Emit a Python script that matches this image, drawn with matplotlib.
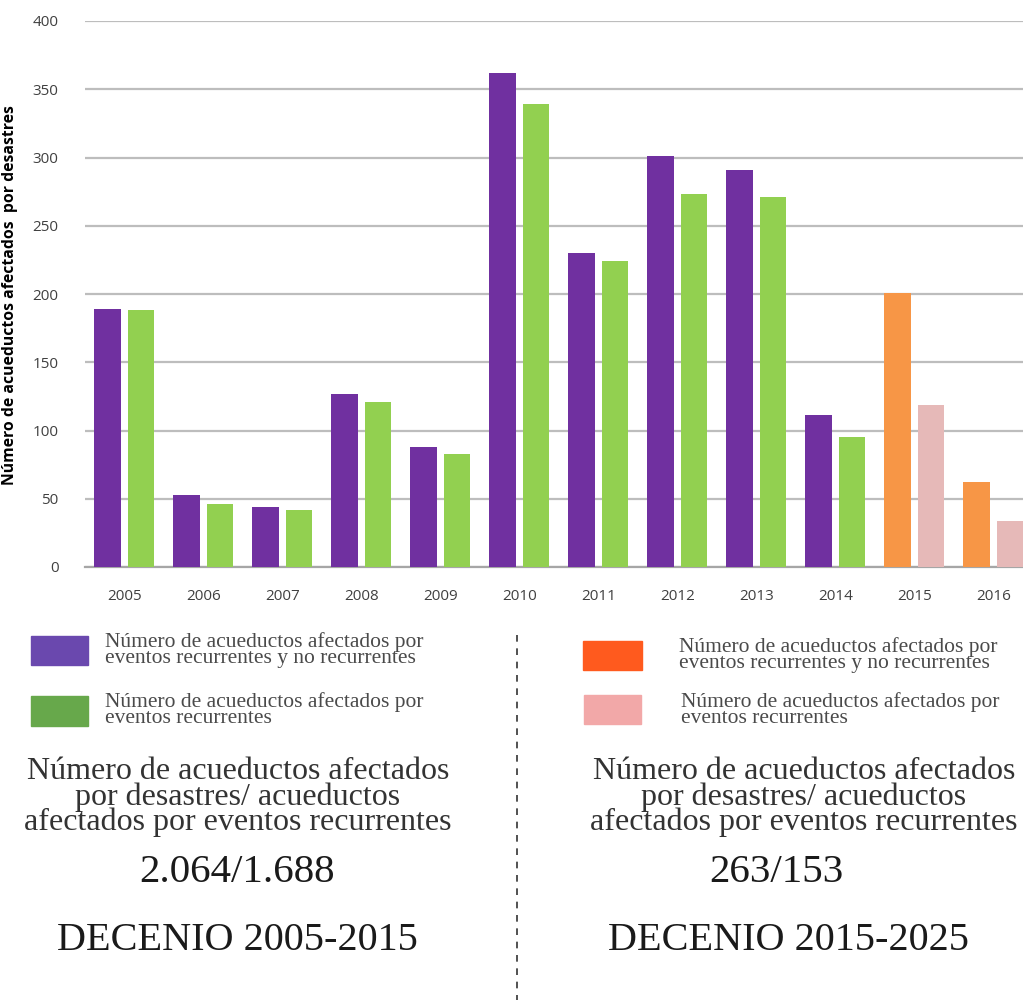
import matplotlib
matplotlib.use("Agg")
from matplotlib import pyplot as plt
from matplotlib.patches import Rectangle
import numpy as np

# ------------------------------------
# data

years = ['2005', '2006', '2007', '2008', '2009', '2010', '2011', '2012', '2013', '2014', '2015', '2016']
total = [189, 53, 44, 127, 88, 362, 230, 301, 291, 111, 201, 62]      # recurrentes y no recurrentes
recurr = [188, 46, 42, 121, 83, 339, 224, 273, 271, 95, 119, 34]      # recurrentes
n_first = 10   # 2005-2014 first decade, 2015-2016 second decade

legend_txt = ['Número de acueductos afectados por\neventos recurrentes y no recurrentes',
              'Número de acueductos afectados por\neventos recurrentes']
summary_txt = 'Número de acueductos afectados\npor desastres/ acueductos\nafectados por eventos recurrentes'
ratio_left, ratio_right = '2.064/1.688', '263/153'
decade_left, decade_right = 'DECENIO 2005-2015', 'DECENIO 2015-2025'

# colours
purple, green = '#7030A0', '#92D050'
orange, pink = '#F79646', '#E6B9B8'
leg_cols = ['#6A48AE', '#67A84B', '#FF5A1E', '#F2A8A8']

W, H = 1023, 1000
fig = plt.figure(figsize=(W/100, H/100), dpi=100)

def fx(px): return px / W
def fy(py): return 1 - py / H

# -------------------------------
# bar chart
x0, x1 = 85, 1023
ax = fig.add_axes([fx(x0), fy(567), fx(x1 - x0), fy(21) - fy(567)])
xx = np.arange(len(years))
c1 = [purple]*n_first + [orange]*(len(years) - n_first)
c2 = [green]*n_first + [pink]*(len(years) - n_first)
bw = 0.33
ax.bar(xx - 0.215, total, bw, color=c1, zorder=3)
ax.bar(xx + 0.21, recurr, bw, color=c2, zorder=3)

ax.set_xlim(-0.5, -0.5 + (x1 - x0) / 79.0)
ax.set_ylim(0, 400)
ax.set_yticks(np.arange(0, 401, 50))
ax.set_xticks(xx)
ax.set_xticklabels(years)
ax.yaxis.grid(True, color='#BDBDBD', linewidth=1.6, zorder=0)
for s in ['top', 'right', 'left']:
    ax.spines[s].set_visible(False)
ax.spines['bottom'].set_color('#A6A6A6')
ax.spines['bottom'].set_linewidth(1.6)
ax.tick_params(length=0, labelsize=11, labelcolor='#404040', pad=16)
ax.tick_params(axis='y', pad=19)
for lab in ax.get_xticklabels() + ax.get_yticklabels():
    lab.set_family('Open Sans')
ax.set_ylabel('Número de acueductos afectados  por desastres', fontsize=11.3,
              fontweight='bold', family='Open Sans')
ax.yaxis.set_label_coords(-0.071, 0.498)

# ------------------
# legends and summary texts below the chart
serif = 'Liberation Serif'
tx = fig.add_axes([0, 0, 1, 1], facecolor='none')
tx.set_xlim(0, W)
tx.set_ylim(H, 0)
tx.axis('off')

# dashed separator
tx.plot([517, 517], [635, 1000], color='#333333', linestyle=(0, (4, 4)), linewidth=1.2)

patches = [(31, 636, 57, 29), (31, 696, 57, 30), (583, 641, 59, 29), (584, 695, 57, 29)]
texts = [(105, 650, legend_txt[0]), (105, 710, legend_txt[1]),
         (679, 655, legend_txt[0]), (681, 710, legend_txt[1])]
for (px, py, pw, ph), col in zip(patches, leg_cols):
    tx.add_patch(Rectangle((px, py), pw, ph, color=col))
for (tx_x, tx_y, s) in texts:
    tx.text(tx_x, tx_y, s, fontsize=15.5, family=serif, color='#4a4a4a',
            va='center', ha='left', linespacing=0.78)

for cx, ratio, rx, dec, dx in [(238, ratio_left, 237, decade_left, 237),
                                (804, ratio_right, 776, decade_right, 789)]:
    tx.text(cx, 797, summary_txt, fontsize=23, family=serif, color='#333333',
            ha='center', va='center', linespacing=0.84)
    tx.text(rx, 873, ratio, fontsize=29.5, family=serif, color='#1a1a1a',
            ha='center', va='center')
    tx.text(dx, 940, dec, fontsize=29, family=serif, color='#1a1a1a',
            ha='center', va='center')

plt.savefig('out.png', dpi=100)
